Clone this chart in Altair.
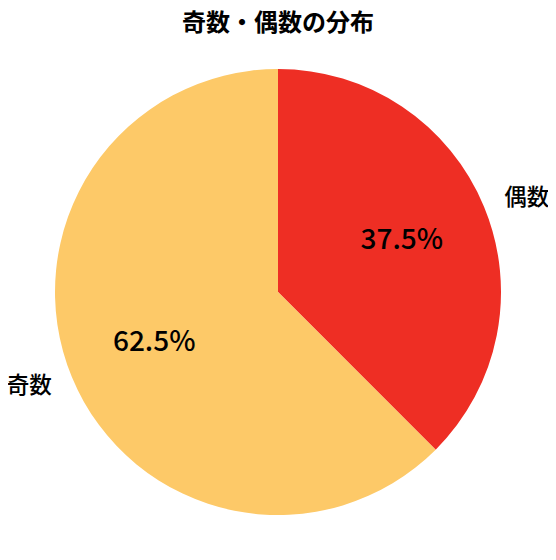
import altair as alt
import pandas as pd

categories = ["偶数", "奇数"]
values = [37.5, 62.5]
pct_labels = ["37.5%", "62.5%"]
colors = ["#EE2E24", "#FDC968"]

df = pd.DataFrame({
    "cat": categories,
    "val": values,
    "pct": pct_labels,
    "idx": list(range(len(categories))),
})

FONT = "Noto Sans CJK JP"

base = alt.Chart(df).encode(
    theta=alt.Theta("val:Q", stack=True),
    order=alt.Order("idx:Q"),
)

arcs = base.mark_arc(outerRadius=223, stroke=None).encode(
    color=alt.Color("cat:N", scale=alt.Scale(domain=categories, range=colors), legend=None)
)

pct = base.mark_text(radius=134, fontSize=28, font=FONT, fontWeight=500, color="black", align="center", baseline="middle").encode(
    text="pct:N"
)

lab_right = base.transform_calculate(
    t="datum.cat === '偶数' ? datum.cat : ''"
).mark_text(radius=245, fontSize=22.5, font=FONT, fontWeight=500, color="black", align="left", baseline="middle").encode(
    text="t:N"
)

lab_left = base.transform_calculate(
    t="datum.cat === '奇数' ? datum.cat : ''"
).mark_text(radius=245, fontSize=22.5, font=FONT, fontWeight=500, color="black", align="right", baseline="middle").encode(
    text="t:N"
)

chart = alt.layer(arcs, pct, lab_right, lab_left).properties(
    width=540,
    height=488,
    padding={"top": 40, "left": 0, "right": 0, "bottom": 0},
    autosize=alt.AutoSizeParams(type="none"),
    title=alt.TitleParams("奇数・偶数の分布", font=FONT, fontSize=24, fontWeight="bold", anchor="middle", offset=12, color="black"),
).configure_view(stroke=None)

chart.save("out.html", embed_options={"renderer": "svg", "actions": False})
